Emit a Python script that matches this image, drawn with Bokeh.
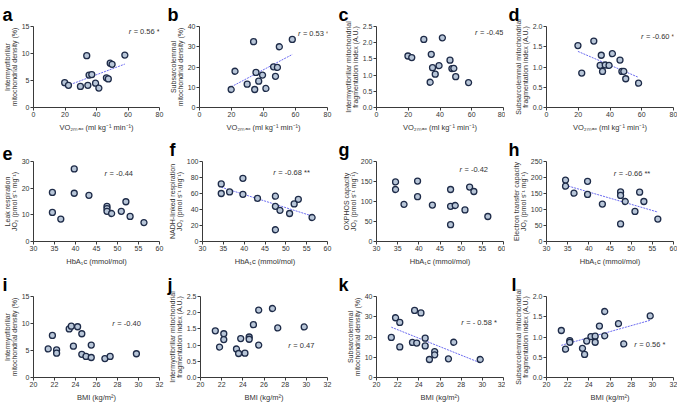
from bokeh.plotting import figure
from bokeh.models import Range1d, FixedTicker, NumeralTickFormatter
from bokeh.layouts import column, row
from bokeh.embed import file_html
from bokeh.resources import INLINE
from bokeh.core.properties import value
import numpy as np

# ---- data ----
vo2max = [19.8, 22.2, 29.8, 33.8, 34.5, 35.3, 37.0, 39.4, 41.5, 46.3, 47.5, 48.7, 49.9, 58.0]
imf_density_vo2 = [4.6, 4.1, 3.9, 9.6, 4.1, 6.0, 6.1, 4.5, 3.6, 5.5, 5.3, 8.2, 8.0, 9.7]
ss_density_vo2 = [8.9, 17.9, 11.5, 32.5, 8.9, 17.3, 13.0, 16.0, 9.4, 20.1, 15.4, 19.8, 30.0, 33.6]
imf_frag_vo2 = [1.59, 1.54, 2.10, 0.78, 1.64, 1.23, 1.03, 1.29, 2.15, 1.46, 1.20, 1.21, 0.95, 0.77]
ss_frag_vo2 = [1.53, 0.85, 1.64, 1.04, 1.29, 0.89, 1.05, 1.04, 1.33, 1.17, 0.89, 0.89, 0.71, 0.60]

hba1c = [34.5, 34.5, 36.5, 39.7, 39.7, 43.2, 47.5, 47.5, 47.5, 48.6, 50.9, 52.0, 53.0, 56.3]
leak = [18.4, 10.9, 8.4, 27.2, 18.1, 17.3, 13.2, 12.3, 11.3, 10.5, 11.3, 14.9, 9.4, 7.1]
nadh = [72, 60, 62, 79, 59, 54, 56.6, 44, 14.7, 39, 35, 47, 52.7, 30]
oxphos = [149, 130, 93, 151, 112, 91, 130, 88, 42, 90, 79, 136, 125, 62.5]
etc = [192, 173, 151, 188, 147, 117, 155, 144, 55, 125, 94, 154, 125, 70]

bmi = [21.4, 21.8, 22.2, 22.2, 23.4, 23.6, 23.8, 24.2, 24.6, 24.6, 25.0, 25.5, 25.5, 26.8, 27.3, 29.8]
imf_density_bmi = [5.3, 7.8, 5.1, 4.5, 9.0, 9.5, 5.8, 9.4, 8.1, 4.3, 3.9, 6.0, 3.7, 3.5, 3.9, 4.4]
imf_frag_bmi = [1.44, 0.94, 1.35, 1.17, 0.88, 0.74, 1.20, 0.75, 1.25, 1.18, 1.63, 2.08, 1.00, 2.13, 1.53, 1.56]
ss_density_bmi = [19.8, 29.5, 27.2, 15.1, 17.3, 33.1, 17.0, 31.9, 19.4, 15.6, 8.9, 12.8, 11.2, 9.2, 17.4, 8.9]
ss_frag_bmi = [1.16, 0.70, 0.91, 0.87, 0.72, 0.57, 0.90, 1.01, 1.02, 0.87, 1.27, 1.63, 1.03, 1.33, 0.83, 1.52]

x_label_vo2 = "VO₂ₘₐₓ (ml kg⁻¹ min⁻¹)"
x_label_hba = "HbA₁c (mmol/mol)"
x_label_bmi = "BMI (kg/m²)"

panel_letters = ["a", "b", "c", "d", "e", "f", "g", "h", "i", "j", "k", "l"]
r_texts = ["= 0.56 *", "= 0.53 *", "= -0.45", "= -0.60 *",
           "= -0.44", "= -0.68 **", "= -0.42", "= -0.66 **",
           "= -0.40", "= 0.47", "= - 0.58 *", "= 0.56 *"]
has_fit = [True, True, False, True, False, True, False, True, False, False, True, True]

y_labels = [
    "Intermyofibrillar\nmitochondrial density (%)",
    "Subsarcolemmal\nmitochondrial density (%)",
    "Intermyofibrillar mitochondrial\nfragmentation index (A.U.)",
    "Subsarcolemmal mitochondrial\nfragmentation index (A.U.)",
    "Leak respiration\nJO₂ (pmol s⁻¹ mg⁻¹)",
    "NADH-linked respiration\nJO₂ (pmol s⁻¹ mg⁻¹)",
    "OXPHOS capacity\nJO₂ (pmol s⁻¹ mg⁻¹)",
    "Electron transfer capacity\nJO₂ (pmol s⁻¹ mg⁻¹)",
    "Intermyofibrillar\nmitochondrial density (%)",
    "Intermyofibrillar mitochondrial\nfragmentation index (A.U.)",
    "Subsarcolemmal\nmitochondrial density (%)",
    "Subsarcolemmal mitochondrial\nfragmentation index (A.U.)",
]

xs_list = [vo2max] * 4 + [hba1c] * 4 + [bmi] * 4
ys_list = [imf_density_vo2, ss_density_vo2, imf_frag_vo2, ss_frag_vo2,
           leak, nadh, oxphos, etc,
           imf_density_bmi, imf_frag_bmi, ss_density_bmi, ss_frag_bmi]
x_labels = [x_label_vo2] * 4 + [x_label_hba] * 4 + [x_label_bmi] * 4

x_ticks_vo2 = [0, 20, 40, 60, 80]
x_ticks_hba = [30, 35, 40, 45, 50, 55, 60]
x_ticks_bmi = [20, 22, 24, 26, 28, 30, 32]
x_ticks_list = [x_ticks_vo2] * 4 + [x_ticks_hba] * 4 + [x_ticks_bmi] * 4
y_ticks_list = [
    [0, 5, 10, 15], [0, 10, 20, 30, 40], [0, 0.5, 1.0, 1.5, 2.0, 2.5], [0, 0.5, 1.0, 1.5, 2.0],
    [0, 10, 20, 30], [0, 20, 40, 60, 80, 100], [0, 50, 100, 150, 200], [0, 50, 100, 150, 200, 250],
    [0, 5, 10, 15], [0, 0.5, 1.0, 1.5, 2.0, 2.5], [0, 10, 20, 30, 40], [0, 0.5, 1.0, 1.5, 2.0],
]
decimal_y = [False, False, True, True, False, False, False, False, False, True, False, True]

# anchor positions (data units) for the r annotation
r_pos = [(60.4, 14.1), (61.5, 36.7), (62.0, 2.30), (59.5, 1.76),
         (46.9, 25.4), (47.0, 85.9), (49.6, 181), (45.9, 211.8),
         (27.5, 10.06), (28.3, 0.98), (28.0, 27.0), (28.3, 0.82)]

# ---- layout geometry ----
col_w = [165, 170, 170, 172]
col_left = [31, 34, 41, 41]
col_right = [6, 8, 2, 4]
row_h = [135, 135, 134]
row_top = [22, 21, 24]
row_bot = [28, 29, 25]
letter_dx = [-31, -32, -38, -38, -31, -33, -38, -38, -31, -33, -38, -35]

FONT = "Liberation Sans"
TXT = "#333333"
AX = "#3a3a3a"

rows = []
for ri in range(3):
    figs = []
    for ci in range(4):
        k = ri * 4 + ci
        xs = np.array(xs_list[k], dtype=float)
        ys = np.array(ys_list[k], dtype=float)
        xt = x_ticks_list[k]
        yt = y_ticks_list[k]
        p = figure(width=col_w[ci], height=row_h[ri], output_backend="svg",
                   toolbar_location=None, tools="",
                   x_range=Range1d(xt[0], xt[-1]), y_range=Range1d(yt[0], yt[-1]),
                   min_border_left=col_left[ci], min_border_right=col_right[ci],
                   min_border_top=row_top[ri], min_border_bottom=row_bot[ri])
        p.outline_line_color = None
        p.xgrid.visible = False
        p.ygrid.visible = False
        p.background_fill_color = "white"
        p.border_fill_color = "white"

        p.title.text = panel_letters[k]
        p.title.text_font = FONT
        p.title.text_font_style = "bold"
        p.title.text_font_size = "18px"
        p.title.text_color = "#000000"
        p.title.align = "left"
        p.title.offset = letter_dx[k]
        p.title.standoff = 4

        for ax, ticks in ((p.xaxis[0], xt), (p.yaxis[0], yt)):
            ax.ticker = FixedTicker(ticks=ticks)
            ax.minor_tick_line_color = None
            ax.major_tick_in = 0
            ax.major_tick_out = 3
            ax.axis_line_color = AX
            ax.major_tick_line_color = AX
            ax.major_label_text_font = FONT
            ax.major_label_text_font_size = "7px"
            ax.major_label_text_color = TXT
            ax.major_label_standoff = 1
            ax.axis_label_text_font = FONT
            ax.axis_label_text_font_style = "normal"
            ax.axis_label_text_color = TXT
        p.xaxis.axis_label = x_labels[k]
        p.xaxis.axis_label_text_font_size = "7.5px"
        p.xaxis.axis_label_standoff = 3
        p.yaxis.axis_label = y_labels[k]
        p.yaxis.axis_label_text_font_size = "7px"
        p.yaxis.axis_label_text_line_height = 1.0
        p.yaxis.axis_label_standoff = 1
        if decimal_y[k]:
            p.yaxis.formatter = NumeralTickFormatter(format="0.0")

        if has_fit[k]:
            m, b = np.polyfit(xs, ys, 1)
            lx = np.array([xs.min(), xs.max()])
            p.line(lx, m * lx + b, line_color="#6b6bf0", line_width=1, line_dash="2 1")

        p.scatter(xs, ys, marker="circle", size=6, fill_color="#b8c6d8",
                  line_color="#1e2b48", line_width=1.3)

        rx, ry = r_pos[k]
        p.text([rx], [ry], text=["r"], text_font=value(FONT), text_font_style="italic",
               text_font_size="7.5px", text_color=TXT, text_baseline="middle", text_align="left")
        p.text([rx], [ry], text=[r_texts[k]], text_font=value(FONT),
               text_font_size="7.5px", text_color=TXT, text_baseline="middle",
               text_align="left", x_offset=5)
        figs.append(p)
    rows.append(row(*figs))

layout = column(*rows)
open("out.html", "w").write(file_html(layout, INLINE))
